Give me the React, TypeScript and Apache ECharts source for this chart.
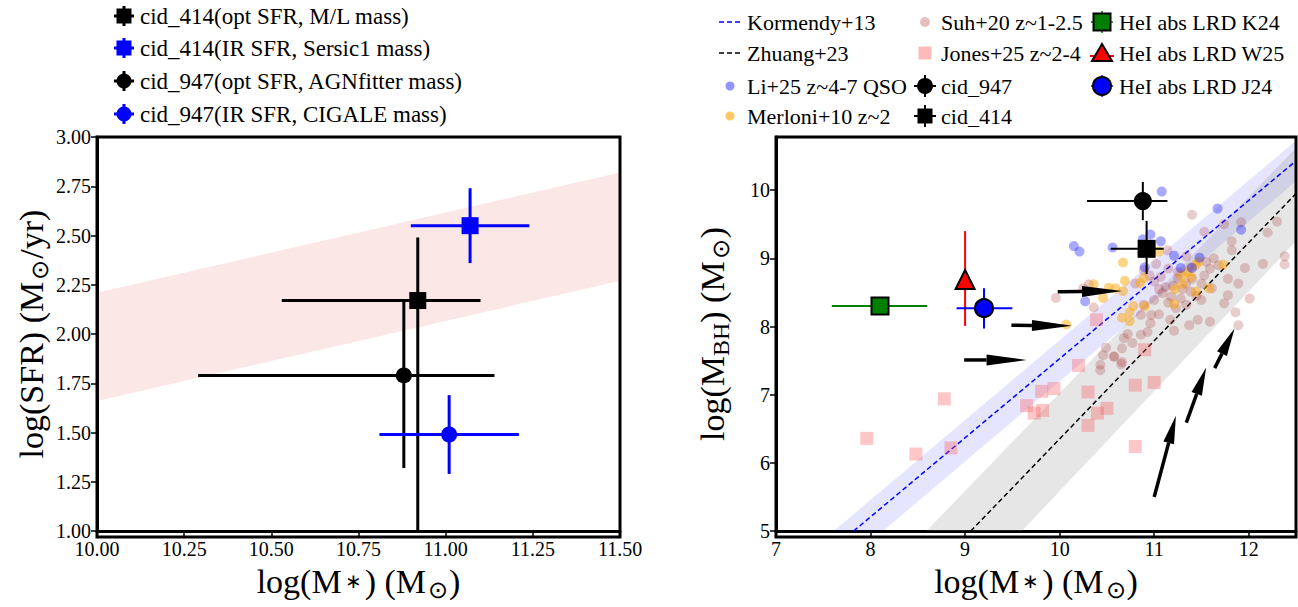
import React, { useEffect, useRef } from 'react';
import * as echarts from 'echarts';

const FONT = "'Liberation Serif', 'Times New Roman', serif";

// ---------- Left panel: SFR vs stellar mass ----------
// rows: [logM*, logSFR, M low, M high, SFR low, SFR high]
const cid414Opt = [[10.92, 2.17, 10.53, 11.1, 0.85, 2.49]];
const cid414IR = [[11.07, 2.55, 10.9, 11.24, 2.36, 2.74]];
const cid947Opt = [[10.88, 1.79, 10.29, 11.14, 1.32, 2.17]];
const cid947IR = [[11.01, 1.49, 10.81, 11.21, 1.29, 1.69]];
// star-forming main sequence band corners
const mainSequenceBand = [[10, 1.66], [11.5, 2.27], [11.5, 2.82], [10, 2.21]];

const leftLegend = [
  'cid_414(opt SFR, M/L mass)',
  'cid_414(IR SFR, Sersic1 mass)',
  'cid_947(opt SFR, AGNfitter mass)',
  'cid_947(IR SFR, CIGALE mass)',
];

// ---------- Right panel: MBH vs stellar mass ----------
const kormendyLine = [[7.82, 5.0], [12.5, 10.43]];
const kormendyBand = [[7.61, 5.0], [8.13, 5.0], [12.5, 10.13], [12.5, 10.73]];
const zhuangLine = [[9.06, 5.0], [12.5, 9.95]];
const zhuangBand = [[8.59, 5.0], [9.6, 5.0], [12.5, 9.25], [12.5, 10.62]];

const suh20 = [
  [11.4, 9.64], [11.53, 9.39], [11.74, 9.5], [11.92, 9.53], [12.2, 9.38], [12.3, 9.54],
  [12.38, 9.03], [12.38, 8.91], [12.15, 8.92], [11.96, 8.86], [11.82, 9.25], [11.82, 9.12],
  [11.63, 9.0], [11.68, 8.9], [11.78, 8.7], [11.89, 8.63], [12.01, 8.41], [11.86, 8.21],
  [11.89, 8.02], [11.74, 8.34], [11.78, 8.46], [11.59, 8.07], [11.46, 8.1], [11.37, 8.02],
  [11.21, 7.94], [11.17, 8.1], [11.05, 8.18], [10.96, 8.05], [10.93, 7.92], [10.86, 7.88],
  [10.77, 7.76], [10.66, 7.68], [10.68, 7.83], [10.57, 7.56], [10.49, 7.69], [10.43, 7.44],
  [10.65, 7.45], [9.96, 8.42], [10.25, 8.56], [10.36, 8.28], [10.8, 8.63], [11.0, 8.66],
  [11.07, 8.73], [11.15, 8.85], [11.25, 8.7], [11.34, 8.63], [11.09, 8.49], [11.18, 8.44],
  [11.28, 8.41], [11.39, 8.51], [11.5, 8.63], [11.53, 8.75], [11.59, 8.85], [11.61, 8.56],
  [11.5, 8.39], [11.34, 8.32], [11.23, 8.27], [11.0, 8.39], [10.89, 8.32], [10.97, 8.17],
  [10.86, 8.17], [11.02, 8.92], [10.89, 8.83], [11.14, 9.12], [11.34, 9.03], [11.39, 8.87],
  [10.46, 7.58], [10.72, 7.89], [10.66, 7.48], [10.58, 7.56], [10.43, 7.36], [11.2, 8.6],
  [11.3, 8.55], [11.12, 8.58], [11.45, 8.45], [11.4, 8.7], [11.55, 8.95], [11.25, 8.8],
  [11.05, 8.55], [10.95, 8.75], [11.15, 8.35], [10.31, 8.62],
];
const jones25 = [
  [7.96, 6.36], [8.48, 6.13], [8.78, 6.94], [8.85, 6.22], [9.65, 6.84], [9.73, 6.73],
  [9.82, 6.77], [9.81, 7.05], [9.94, 7.09], [10.2, 7.43], [10.3, 7.04], [10.3, 6.55],
  [10.4, 6.73], [10.5, 6.8], [10.39, 8.1], [10.8, 7.14], [11.0, 7.18], [10.8, 6.24],
  [10.9, 7.66],
];
const li25 = [
  [11.08, 9.98], [10.15, 9.18], [10.21, 9.1], [10.56, 9.16], [10.96, 9.35], [11.07, 9.25],
  [11.67, 9.73], [11.92, 9.42], [11.21, 9.04], [11.48, 9.01], [11.28, 8.86], [11.4, 8.86],
  [10.9, 8.87], [10.27, 8.37], [10.88, 9.28],
];
const merloni10 = [
  [10.67, 8.94], [10.36, 8.62], [10.52, 8.57], [10.59, 8.56], [10.46, 8.42], [10.67, 8.52],
  [10.69, 8.67], [10.85, 8.64], [10.89, 8.71], [11.05, 9.1], [10.87, 9.08], [10.78, 8.3],
  [10.74, 8.21], [10.66, 8.13], [10.74, 8.08], [10.9, 8.3], [11.21, 8.33], [11.3, 8.62],
  [11.39, 8.73], [11.44, 8.9], [11.47, 8.95], [11.73, 8.91], [11.58, 8.56], [11.44, 8.51],
  [11.29, 8.75], [10.07, 8.03], [11.22, 8.55], [11.35, 8.8],
];
// [tail x, tail y, tip x, tip y]
const arrowsHorizontal = [
  [9.98, 8.51, 10.66, 8.52],
  [9.49, 8.02, 10.13, 8.01],
  [8.99, 7.51, 9.65, 7.51],
];
const arrowsDiagonal = [
  [11.0, 5.5, 11.23, 6.69],
  [11.34, 6.59, 11.55, 7.4],
  [11.64, 7.39, 11.85, 7.97],
];
// [logM*, logMBH, M low, M high, MBH low, MBH high]
const lrdK24 = [[8.1, 8.3, 7.59, 8.6, 8.25, 8.35]];
const lrdW25 = [[9.0, 8.69, 8.98, 9.02, 8.01, 9.4]];
const lrdJ24 = [[9.2, 8.27, 8.91, 9.5, 7.97, 8.56]];
const cid947 = [[10.88, 9.84, 10.29, 11.14, 9.56, 10.12]];
const cid414 = [[10.92, 9.14, 10.54, 11.1, 8.77, 9.55]];

const rightLegend = [
  ['Kormendy+13', 'Zhuang+23', 'Li+25 z~4-7 QSO', 'Merloni+10 z~2'],
  ['Suh+20 z~1-2.5', 'Jones+25 z~2-4', 'cid_947', 'cid_414'],
  ['HeI abs LRD K24', 'HeI abs LRD W25', 'HeI abs LRD J24'],
];

const C_LI = 'rgba(0,0,255,0.42)';
const C_MER = 'rgba(255,165,0,0.6)';
const C_SUH = 'rgba(165,42,42,0.3)';
const C_JONES = 'rgba(250,90,90,0.42)';

function errorBars(color: string, width: number) {
  return (params: any, api: any) => {
    const x = api.value(0), y = api.value(1);
    const l = api.coord([api.value(2), y]);
    const r = api.coord([api.value(3), y]);
    const b = api.coord([x, api.value(4)]);
    const t = api.coord([x, api.value(5)]);
    return {
      type: 'group',
      children: [
        { type: 'line', shape: { x1: l[0], y1: l[1], x2: r[0], y2: r[1] }, style: { stroke: color, lineWidth: width } },
        { type: 'line', shape: { x1: b[0], y1: b[1], x2: t[0], y2: t[1] }, style: { stroke: color, lineWidth: width } },
      ],
    };
  };
}

function bandPolygon(corners: number[][], fill: string) {
  return (params: any, api: any) => ({
    type: 'polygon',
    shape: { points: corners.map((c) => api.coord(c)) },
    style: { fill },
  });
}

function arrowShape(headLen: number, halfWidth: number) {
  return (params: any, api: any) => {
    const p1 = api.coord([api.value(0), api.value(1)]);
    const p2 = api.coord([api.value(2), api.value(3)]);
    const dx = p2[0] - p1[0], dy = p2[1] - p1[1];
    const len = Math.sqrt(dx * dx + dy * dy);
    const ux = dx / len, uy = dy / len;
    const bx = p2[0] - ux * headLen, by = p2[1] - uy * headLen;
    const px = -uy * halfWidth, py = ux * halfWidth;
    return {
      type: 'group',
      children: [
        { type: 'line', shape: { x1: p1[0], y1: p1[1], x2: bx, y2: by }, style: { stroke: '#000', lineWidth: 3.5 } },
        { type: 'polygon', shape: { points: [[p2[0], p2[1]], [bx + px, by + py], [bx - px, by - py]] }, style: { fill: '#000' } },
      ],
    };
  };
}

// ---------- legend drawing helpers ----------
const txt = (x: number, y: number, text: string, size: number) => ({
  type: 'text', x, y, z: 100,
  style: { text, fontSize: size, fontFamily: FONT, fill: '#000', verticalAlign: 'middle', align: 'left' },
});
const seg = (x1: number, y1: number, x2: number, y2: number, stroke: string, lineWidth: number, lineDash?: number[]) => ({
  type: 'line', z: 100, shape: { x1, y1, x2, y2 }, style: { stroke, lineWidth, lineDash },
});
const sq = (cx: number, cy: number, s: number, fill: string, stroke?: string, lineWidth = 0) => ({
  type: 'rect', z: 101, shape: { x: cx - s / 2, y: cy - s / 2, width: s, height: s },
  style: { fill, stroke: stroke || null, lineWidth },
});
const dot = (cx: number, cy: number, r: number, fill: string, stroke?: string, lineWidth = 0) => ({
  type: 'circle', z: 101, shape: { cx, cy, r }, style: { fill, stroke: stroke || null, lineWidth },
});
const cross = (cx: number, cy: number, arm: number, color: string, w: number) => [
  seg(cx - arm, cy, cx + arm, cy, color, w),
  seg(cx, cy - arm, cx, cy + arm, color, w),
];

function legendGraphics() {
  const g: any[] = [];
  const lRows = [16, 48, 81, 114];
  const lx = 124;
  g.push(...cross(lx, lRows[0], 10, '#000', 3), sq(lx, lRows[0], 15, '#000'));
  g.push(...cross(lx, lRows[1], 10, '#0000ff', 3), sq(lx, lRows[1], 15, '#0000ff'));
  g.push(...cross(lx, lRows[2], 10, '#000', 3), dot(lx, lRows[2], 7.5, '#000'));
  g.push(...cross(lx, lRows[3], 10, '#0000ff', 3), dot(lx, lRows[3], 7.5, '#0000ff'));
  leftLegend.forEach((t, i) => g.push(txt(140, lRows[i], t, 23)));

  const rRows = [22, 53, 86, 116];
  const c1 = 730, c2 = 925, c3 = 1102;
  g.push(seg(719, rRows[0], 741, rRows[0], '#0000ff', 1.5, [5, 3]));
  g.push(seg(719, rRows[1], 741, rRows[1], '#000', 1.5, [5, 3]));
  g.push(dot(c1, rRows[2], 4.5, C_LI));
  g.push(dot(c1, rRows[3], 4.5, C_MER));
  g.push(dot(c2, rRows[0], 5, C_SUH));
  g.push(sq(c2, rRows[1], 13, C_JONES));
  g.push(...cross(c2, rRows[2], 11, '#000', 2), dot(c2, rRows[2], 8, '#000'));
  g.push(...cross(c2, rRows[3], 11, '#000', 2), sq(c2, rRows[3], 15, '#000'));
  g.push(...cross(c3, rRows[0], 11, '#008000', 1.5), sq(c3, rRows[0], 17, '#007f00', '#000', 2));
  g.push(seg(c3 - 12, rRows[1] + 3, c3 + 12, rRows[1] + 3, '#ff0000', 2));
  g.push({
    type: 'polygon', z: 101,
    shape: { points: [[c3, rRows[1] - 9], [c3 + 10, rRows[1] + 8], [c3 - 10, rRows[1] + 8]] },
    style: { fill: '#ff0000', stroke: '#000', lineWidth: 2 },
  });
  g.push(...cross(c3, rRows[2], 11, '#0000ff', 1.5), dot(c3, rRows[2], 9, '#0000ff', '#000', 2));
  rightLegend[0].forEach((t, i) => g.push(txt(747, rRows[i], t, 22)));
  rightLegend[1].forEach((t, i) => g.push(txt(941, rRows[i], t, 22)));
  rightLegend[2].forEach((t, i) => g.push(txt(1119, rRows[i], t, 22)));

  // plot frames
  g.push({ type: 'rect', z: 120, shape: { x: 97, y: 137, width: 523, height: 400 }, style: { fill: null, stroke: '#000', lineWidth: 3 } });
  g.push({ type: 'rect', z: 120, shape: { x: 776, y: 137, width: 520, height: 400 }, style: { fill: null, stroke: '#000', lineWidth: 3 } });
  return g;
}

const nameRich = {
  n: { fontSize: 34, fontFamily: FONT, color: '#000', lineHeight: 42 },
  star: { fontSize: 20, fontFamily: FONT, color: '#000', lineHeight: 20, verticalAlign: 'middle', padding: [0, 3, 0, 3] },
  sun: { fontSize: 24, fontFamily: FONT, color: '#000', lineHeight: 24, verticalAlign: 'bottom', padding: [0, 1, 0, 2] },
  sub: { fontSize: 24, fontFamily: FONT, color: '#000', lineHeight: 24, verticalAlign: 'bottom' },
};
const massName = '{n|log(M}{star|∗}{n|) (M}{sun|⊙}{n|)}';

const tickLabel = { fontFamily: FONT, fontSize: 20, color: '#000' };
const axisLine = { show: true, lineStyle: { color: '#000', width: 3 } };
const axisTick = { show: true, length: 6, lineStyle: { color: '#000', width: 1.5 } };

export default function App() {
  const ref = useRef<HTMLDivElement>(null);
  useEffect(() => {
    const chart = echarts.init(ref.current!, null, { renderer: 'svg' });
    const option: any = {
      animation: false,
      backgroundColor: '#fff',
      textStyle: { fontFamily: FONT },
      grid: [
        { left: 97, top: 137, width: 523, height: 400 },
        { left: 776, top: 137, width: 520, height: 400 },
      ],
      xAxis: [
        {
          gridIndex: 0, type: 'value', min: 10, max: 11.5, interval: 0.25,
          axisLine, axisTick, splitLine: { show: false },
          axisLabel: { ...tickLabel, margin: 8, formatter: (v: number) => v.toFixed(2) },
          name: massName, nameLocation: 'middle', nameGap: 27, nameTextStyle: { rich: nameRich },
        },
        {
          gridIndex: 1, type: 'value', min: 7, max: 12.5, interval: 1,
          axisLine, axisTick, splitLine: { show: false },
          axisLabel: { ...tickLabel, margin: 8, showMaxLabel: false, formatter: (v: number) => (Number.isInteger(v) ? String(v) : '') },
          name: massName, nameLocation: 'middle', nameGap: 27, nameTextStyle: { rich: nameRich },
        },
      ],
      yAxis: [
        {
          gridIndex: 0, type: 'value', min: 1, max: 3, interval: 0.25,
          axisLine, axisTick, splitLine: { show: false },
          axisLabel: { ...tickLabel, margin: 6, formatter: (v: number) => v.toFixed(2) },
          name: '{n|log(SFR) (M}{sun|⊙}{n|/yr)}', nameLocation: 'middle', nameGap: 43, nameRotate: 90,
          nameTextStyle: { rich: nameRich },
        },
        {
          gridIndex: 1, type: 'value', min: 5, max: 10.78, interval: 1,
          axisLine, axisTick, splitLine: { show: false },
          axisLabel: { ...tickLabel, margin: 6, showMaxLabel: false, formatter: (v: number) => (Number.isInteger(v) ? String(v) : '') },
          name: '{n|log(M}{sub|BH}{n|) (M}{sun|⊙}{n|)}', nameLocation: 'middle', nameGap: 43, nameRotate: 90,
          nameTextStyle: { rich: nameRich },
        },
      ],
      graphic: legendGraphics(),
      series: [
        // left panel
        { type: 'custom', name: 'main sequence', xAxisIndex: 0, yAxisIndex: 0, z: 1, clip: true, silent: true,
          data: [mainSequenceBand[0]], renderItem: bandPolygon(mainSequenceBand, 'rgba(240,110,110,0.17)') },
        { type: 'custom', name: leftLegend[0] + ' err', xAxisIndex: 0, yAxisIndex: 0, z: 3, clip: true, data: cid414Opt, renderItem: errorBars('#000', 3) },
        { type: 'custom', name: leftLegend[1] + ' err', xAxisIndex: 0, yAxisIndex: 0, z: 3, clip: true, data: cid414IR, renderItem: errorBars('#0000ff', 3) },
        { type: 'custom', name: leftLegend[2] + ' err', xAxisIndex: 0, yAxisIndex: 0, z: 3, clip: true, data: cid947Opt, renderItem: errorBars('#000', 3) },
        { type: 'custom', name: leftLegend[3] + ' err', xAxisIndex: 0, yAxisIndex: 0, z: 3, clip: true, data: cid947IR, renderItem: errorBars('#0000ff', 3) },
        { type: 'scatter', name: leftLegend[0], xAxisIndex: 0, yAxisIndex: 0, z: 4, symbol: 'rect', symbolSize: 17, itemStyle: { color: '#000', opacity: 1 }, data: cid414Opt.map((d) => [d[0], d[1]]) },
        { type: 'scatter', name: leftLegend[1], xAxisIndex: 0, yAxisIndex: 0, z: 4, symbol: 'rect', symbolSize: 17, itemStyle: { color: '#0000ff', opacity: 1 }, data: cid414IR.map((d) => [d[0], d[1]]) },
        { type: 'scatter', name: leftLegend[2], xAxisIndex: 0, yAxisIndex: 0, z: 4, symbol: 'circle', symbolSize: 16, itemStyle: { color: '#000', opacity: 1 }, data: cid947Opt.map((d) => [d[0], d[1]]) },
        { type: 'scatter', name: leftLegend[3], xAxisIndex: 0, yAxisIndex: 0, z: 4, symbol: 'circle', symbolSize: 16, itemStyle: { color: '#0000ff', opacity: 1 }, data: cid947IR.map((d) => [d[0], d[1]]) },

        // right panel
        { type: 'custom', name: 'Kormendy+13 scatter', xAxisIndex: 1, yAxisIndex: 1, z: 1, clip: true, silent: true,
          data: [kormendyBand[0]], renderItem: bandPolygon(kormendyBand, 'rgba(0,0,255,0.1)') },
        { type: 'custom', name: 'Zhuang+23 scatter', xAxisIndex: 1, yAxisIndex: 1, z: 1, clip: true, silent: true,
          data: [zhuangBand[0]], renderItem: bandPolygon(zhuangBand, 'rgba(128,128,128,0.2)') },
        { type: 'line', name: 'Kormendy+13', xAxisIndex: 1, yAxisIndex: 1, z: 2, symbol: 'none', data: kormendyLine,
          lineStyle: { color: '#0000ff', width: 1.5, type: [5, 3] } },
        { type: 'line', name: 'Zhuang+23', xAxisIndex: 1, yAxisIndex: 1, z: 2, symbol: 'none', data: zhuangLine,
          lineStyle: { color: '#000', width: 1.5, type: [5, 3] } },
        { type: 'scatter', name: 'Suh+20 z~1-2.5', xAxisIndex: 1, yAxisIndex: 1, z: 3, symbol: 'circle', symbolSize: 10, itemStyle: { color: C_SUH }, data: suh20 },
        { type: 'scatter', name: 'Jones+25 z~2-4', xAxisIndex: 1, yAxisIndex: 1, z: 3, symbol: 'rect', symbolSize: 13, itemStyle: { color: C_JONES }, data: jones25 },
        { type: 'scatter', name: 'Merloni+10 z~2', xAxisIndex: 1, yAxisIndex: 1, z: 3, symbol: 'circle', symbolSize: 10, itemStyle: { color: C_MER }, data: merloni10 },
        { type: 'scatter', name: 'Li+25 z~4-7 QSO', xAxisIndex: 1, yAxisIndex: 1, z: 3, symbol: 'circle', symbolSize: 10, itemStyle: { color: C_LI }, data: li25 },
        { type: 'custom', name: 'arrows', xAxisIndex: 1, yAxisIndex: 1, z: 4, data: arrowsHorizontal, renderItem: arrowShape(40, 5.5) },
        { type: 'custom', name: 'arrows diag', xAxisIndex: 1, yAxisIndex: 1, z: 4, data: arrowsDiagonal, renderItem: arrowShape(28, 5.5) },
        { type: 'custom', name: 'K24 err', xAxisIndex: 1, yAxisIndex: 1, z: 5, data: lrdK24, renderItem: errorBars('#008000', 2) },
        { type: 'custom', name: 'W25 err', xAxisIndex: 1, yAxisIndex: 1, z: 5, data: lrdW25, renderItem: errorBars('#ff0000', 2) },
        { type: 'custom', name: 'J24 err', xAxisIndex: 1, yAxisIndex: 1, z: 5, data: lrdJ24, renderItem: errorBars('#0000ff', 2) },
        { type: 'custom', name: 'cid_947 err', xAxisIndex: 1, yAxisIndex: 1, z: 5, data: cid947, renderItem: errorBars('#000', 2) },
        { type: 'custom', name: 'cid_414 err', xAxisIndex: 1, yAxisIndex: 1, z: 5, data: cid414, renderItem: errorBars('#000', 2) },
        { type: 'scatter', name: 'HeI abs LRD K24', xAxisIndex: 1, yAxisIndex: 1, z: 6, symbol: 'rect', symbolSize: 17,
          itemStyle: { color: '#007f00', borderColor: '#000', borderWidth: 2, opacity: 1 }, data: lrdK24.map((d) => [d[0], d[1]]) },
        { type: 'scatter', name: 'HeI abs LRD W25', xAxisIndex: 1, yAxisIndex: 1, z: 6, symbol: 'triangle', symbolSize: 19,
          itemStyle: { color: '#ff0000', borderColor: '#000', borderWidth: 2, opacity: 1 }, data: lrdW25.map((d) => [d[0], d[1]]) },
        { type: 'scatter', name: 'HeI abs LRD J24', xAxisIndex: 1, yAxisIndex: 1, z: 6, symbol: 'circle', symbolSize: 18,
          itemStyle: { color: '#0000ff', borderColor: '#000', borderWidth: 2, opacity: 1 }, data: lrdJ24.map((d) => [d[0], d[1]]) },
        { type: 'scatter', name: 'cid_947', xAxisIndex: 1, yAxisIndex: 1, z: 6, symbol: 'circle', symbolSize: 18,
          itemStyle: { color: '#000', opacity: 1 }, data: cid947.map((d) => [d[0], d[1]]) },
        { type: 'scatter', name: 'cid_414', xAxisIndex: 1, yAxisIndex: 1, z: 6, symbol: 'rect', symbolSize: 18,
          itemStyle: { color: '#000', opacity: 1 }, data: cid414.map((d) => [d[0], d[1]]) },
      ],
    };
    chart.setOption(option);
    return () => chart.dispose();
  }, []);
  return <div ref={ref} style={{ position: 'absolute', left: 0, top: 0, width: 1298, height: 607 }} />;
}
